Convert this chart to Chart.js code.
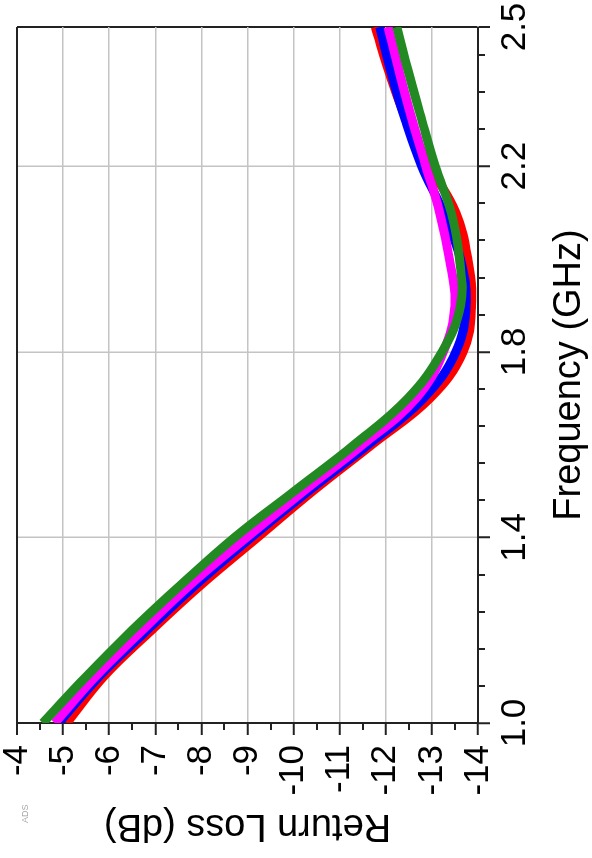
<!DOCTYPE html>
<html>
<head>
<meta charset="utf-8">
<script src="https://cdn.jsdelivr.net/npm/chart.js@4.4.1/dist/chart.umd.min.js"></script>
<style>
html, body { margin: 0; padding: 0; background: #fff; overflow: hidden; }
body { width: 592px; height: 858px; position: relative; }
/* chart is drawn landscape, then turned a quarter turn to the left */
#wrap { position: absolute; left: -133px; top: 133px; width: 858px; height: 592px; transform: rotate(-90deg); }
#ads { position: absolute; left: 35px; top: 20px; font: 9px "Liberation Sans", Arial, sans-serif; color: #a8a8a8; }
</style>
</head>
<body>
<div id="wrap">
  <canvas id="graficoReturnLoss" width="858" height="592"></canvas>
  <span id="ads">ADS</span>
</div>
<script>
// frequency points (GHz)
const freq = [1.0, 1.1, 1.2, 1.3, 1.4, 1.5, 1.6, 1.7, 1.8, 1.9, 2.0, 2.1, 2.2, 2.3, 2.4, 2.5];

// return loss (dB)
const greenRL   = [-4.56, -5.50, -6.50, -7.58, -8.72, -10.02, -11.32, -12.48, -13.22, -13.62, -13.60, -13.42, -13.07, -12.78, -12.50, -12.24];
const magentaRL = [-4.82, -5.70, -6.72, -7.78, -8.98, -10.22, -11.50, -12.66, -13.25, -13.50, -13.38, -13.17, -12.87, -12.57, -12.30, -12.05];
const blueRL    = [-4.90, -5.78, -6.82, -7.90, -9.08, -10.32, -11.62, -12.82, -13.52, -13.74, -13.62, -13.25, -12.78, -12.42, -12.12, -11.87];
const redRL     = [-5.08, -5.88, -6.92, -8.02, -9.22, -10.42, -11.70, -12.96, -13.68, -13.86, -13.78, -13.52, -12.95, -12.45, -12.08, -11.77];

// axis ticks
const freqTicks = [1.0, 1.4, 1.8, 2.2, 2.5];
const dbTicks = [-4, -5, -6, -7, -8, -9, -10, -11, -12, -13, -14];

const pts = arr => arr.map((v, i) => ({ x: freq[i], y: v }));

const frameColor = '#222';
const gridColor = '#c4c4c4';

// short minor tick marks on both axes
const minorTicks = {
    id: 'minorTicks',
    afterDraw(chart) {
        const { ctx, scales: { x, y } } = chart;
        ctx.save();
        ctx.strokeStyle = frameColor;
        ctx.lineWidth = 2;
        ctx.beginPath();
        for (let k = 1; k < 19; k++) {
            const v = 1.0 + k * 0.08;
            if (k % 5 === 0) continue;
            const px = Math.round(x.getPixelForValue(v));
            ctx.moveTo(px, y.bottom);
            ctx.lineTo(px, y.bottom + 7);
        }
        for (let k = 0; k < 10; k++) {
            const v = -4.5 - k;
            const py = Math.round(y.getPixelForValue(v));
            ctx.moveTo(x.left, py);
            ctx.lineTo(x.left - 7, py);
        }
        ctx.stroke();
        ctx.restore();
    }
};

document.addEventListener('DOMContentLoaded', () => {
    Chart.defaults.font.family = '"Liberation Sans", Arial, sans-serif';
    Chart.defaults.color = '#000';

    const ctx = document.getElementById('graficoReturnLoss');

    new Chart(ctx, {
        type: 'line',
        data: {
            datasets: [
                { label: 'green', data: pts(greenRL), borderColor: '#238a23' },
                { label: 'magenta', data: pts(magentaRL), borderColor: '#ff00ff' },
                { label: 'blue', data: pts(blueRL), borderColor: '#0000ff' },
                { label: 'red', data: pts(redRL), borderColor: '#ff0000' }
            ]
        },
        options: {
            responsive: false,
            animation: false,
            layout: { padding: { top: 17, right: 27, left: 0, bottom: 0 } },
            elements: {
                line: { borderWidth: 9, tension: 0.4, fill: false },
                point: { radius: 0, hoverRadius: 0 }
            },
            plugins: {
                legend: { display: false },
                tooltip: { enabled: false }
            },
            scales: {
                x: {
                    type: 'linear',
                    position: 'bottom',
                    min: 1.0,
                    max: 2.5,
                    afterBuildTicks: s => { s.ticks = freqTicks.map(v => ({ value: v })); },
                    afterFit: s => {
                        s.height = 114;
                        s.paddingLeft = 0;
                        s.paddingRight = 0;
                    },
                    ticks: {
                        autoSkip: false,
                        maxRotation: 0,
                        padding: 4,
                        font: { size: 35 },
                        callback: v => v.toFixed(1)
                    },
                    grid: {
                        color: c => (c.tick && c.tick.value === 2.5) ? frameColor : gridColor,
                        lineWidth: c => (c.tick && c.tick.value === 2.5) ? 2 : 1.5,
                        tickLength: 12,
                        tickColor: frameColor,
                        tickWidth: 2
                    },
                    border: { color: frameColor, width: 2 },
                    title: {
                        display: true,
                        text: 'Frequency (GHz)',
                        font: { size: 38 },
                        padding: { top: 0, bottom: 0 }
                    }
                },
                y: {
                    type: 'linear',
                    position: 'left',
                    min: -14,
                    max: -4,
                    afterBuildTicks: s => { s.ticks = dbTicks.map(v => ({ value: v })); },
                    afterFit: s => {
                        s.width = 135;
                        s.paddingTop = 0;
                        s.paddingBottom = 0;
                    },
                    ticks: {
                        autoSkip: false,
                        padding: 10,
                        font: { size: 35 }
                    },
                    grid: {
                        color: c => (c.tick && c.tick.value === -4) ? frameColor : gridColor,
                        lineWidth: c => (c.tick && c.tick.value === -4) ? 2 : 1.5,
                        tickLength: 12,
                        tickColor: frameColor,
                        tickWidth: 2
                    },
                    border: { color: frameColor, width: 2 },
                    title: {
                        display: true,
                        text: 'Return Loss (dB)',
                        font: { size: 38 },
                        padding: { top: 10, bottom: 0 }
                    }
                }
            }
        },
        plugins: [minorTicks]
    });
});
</script>
</body>
</html>
